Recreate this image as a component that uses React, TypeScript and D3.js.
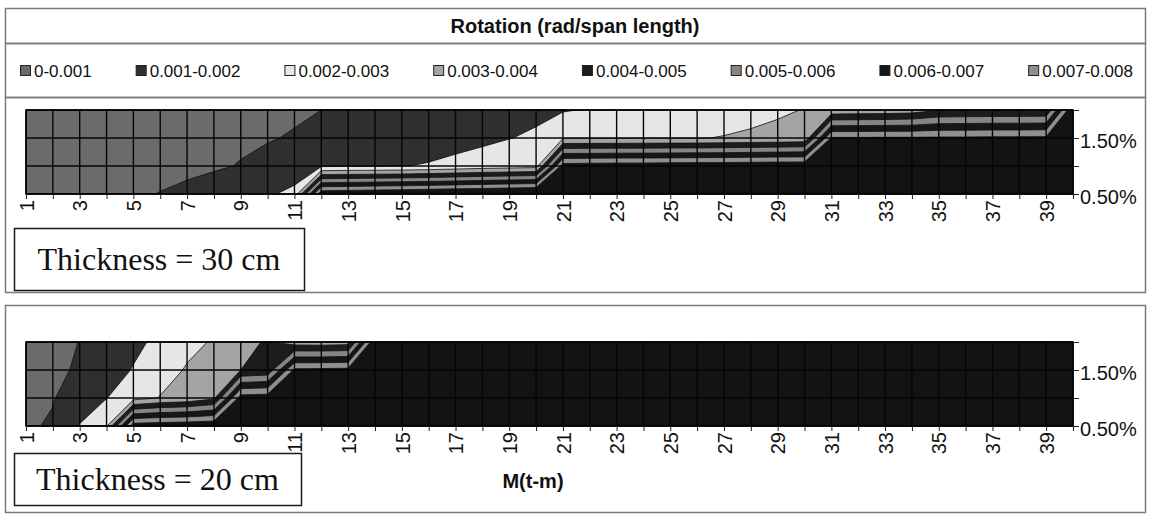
import React, { useEffect, useRef } from 'react';
import * as d3 from 'd3';

// categories: M (t-m)
const moments = [1, 2, 3, 4, 5, 6, 7, 8, 9, 10, 11, 12, 13, 14, 15, 16, 17, 18, 19, 20,
  21, 22, 23, 24, 25, 26, 27, 28, 29, 30, 31, 32, 33, 34, 35, 36, 37, 38, 39, 40];
// series (slope), bottom to top
const slopes = ['0.50%', '1.00%', '1.50%', '2.00%'];
const slopeTickLabels = ['0.50%', '1.50%'];

const bandLabels = ['0-0.001', '0.001-0.002', '0.002-0.003', '0.003-0.004',
  '0.004-0.005', '0.005-0.006', '0.006-0.007', '0.007-0.008'];
const bandBreaks = [0, 0.001, 0.002, 0.003, 0.004, 0.005, 0.006, 0.007, 0.008];

// rotation (rad/span length), thickness = 30 cm
const rot30_050 = [0.00030, 0.00045, 0.00060, 0.00072, 0.00086, 0.00103, 0.00120, 0.00140, 0.00160, 0.00185,
  0.00230, 0.00880, 0.00890, 0.00900, 0.00910, 0.00920, 0.00930, 0.00940, 0.00950, 0.00960,
  0.01050, 0.01060, 0.01070, 0.01080, 0.01090, 0.01100, 0.01110, 0.01120, 0.01130, 0.01140,
  0.01250, 0.01260, 0.01270, 0.01280, 0.01290, 0.01300, 0.01310, 0.01320, 0.01330, 0.01400];
const rot30_100 = [0.00020, 0.00030, 0.00040, 0.00050, 0.00060, 0.00070, 0.00080, 0.00090, 0.00104, 0.00118,
  0.00135, 0.00185, 0.00190, 0.00193, 0.00197, 0.00207, 0.00222, 0.00240, 0.00250, 0.00260,
  0.00850, 0.00855, 0.00860, 0.00860, 0.00865, 0.00870, 0.00870, 0.00875, 0.00880, 0.00880,
  0.00960, 0.00970, 0.00980, 0.00990, 0.01000, 0.01010, 0.01020, 0.01030, 0.01040, 0.01100];
const rot30_150 = [0.00015, 0.00024, 0.00033, 0.00042, 0.00051, 0.00060, 0.00069, 0.00078, 0.00087, 0.00096,
  0.00105, 0.00115, 0.00125, 0.00135, 0.00145, 0.00155, 0.00170, 0.00182, 0.00198, 0.00212,
  0.00290, 0.00292, 0.00293, 0.00295, 0.00296, 0.00297, 0.00303, 0.00310, 0.00316, 0.00325,
  0.00810, 0.00810, 0.00812, 0.00812, 0.00815, 0.00815, 0.00818, 0.00818, 0.00820, 0.00900];
const rot30_200 = [0.00010, 0.00018, 0.00026, 0.00034, 0.00042, 0.00050, 0.00058, 0.00066, 0.00074, 0.00082,
  0.00091, 0.00100, 0.00110, 0.00120, 0.00130, 0.00140, 0.00150, 0.00160, 0.00170, 0.00182,
  0.00193, 0.00207, 0.00220, 0.00233, 0.00245, 0.00257, 0.00268, 0.00280, 0.00292, 0.00302,
  0.00330, 0.00335, 0.00340, 0.00350, 0.00395, 0.00400, 0.00405, 0.00405, 0.00410, 0.00900];

// rotation (rad/span length), thickness = 20 cm
const rot20_050 = [0.00088, 0.00110, 0.00205, 0.00290, 0.00860, 0.00870, 0.00880, 0.00890, 0.00900, 0.00920,
  0.00940, 0.00960, 0.00980, 0.01000, 0.01020, 0.01040, 0.01060, 0.01080, 0.01100, 0.01120,
  0.01140, 0.01160, 0.01180, 0.01200, 0.01220, 0.01240, 0.01260, 0.01280, 0.01300, 0.01320,
  0.01340, 0.01360, 0.01380, 0.01400, 0.01420, 0.01440, 0.01460, 0.01480, 0.01500, 0.01520];
const rot20_100 = [0.00055, 0.00095, 0.00145, 0.00198, 0.00260, 0.00305, 0.00325, 0.00380, 0.00850, 0.00860,
  0.00880, 0.00900, 0.00920, 0.00940, 0.00960, 0.00980, 0.01000, 0.01020, 0.01040, 0.01060,
  0.01080, 0.01100, 0.01120, 0.01140, 0.01160, 0.01180, 0.01200, 0.01220, 0.01240, 0.01260,
  0.01280, 0.01300, 0.01320, 0.01340, 0.01360, 0.01380, 0.01400, 0.01420, 0.01440, 0.01460];
const rot20_150 = [0.00040, 0.00080, 0.00112, 0.00160, 0.00205, 0.00250, 0.00310, 0.00350, 0.00400, 0.00420,
  0.00820, 0.00825, 0.00830, 0.00900, 0.00920, 0.00940, 0.00960, 0.00980, 0.01000, 0.01020,
  0.01040, 0.01060, 0.01080, 0.01100, 0.01120, 0.01140, 0.01160, 0.01180, 0.01200, 0.01220,
  0.01240, 0.01260, 0.01280, 0.01300, 0.01320, 0.01340, 0.01360, 0.01380, 0.01400, 0.01420];
const rot20_200 = [0.00035, 0.00070, 0.00102, 0.00140, 0.00180, 0.00220, 0.00270, 0.00310, 0.00370, 0.00410,
  0.00350, 0.00345, 0.00355, 0.00890, 0.00910, 0.00930, 0.00950, 0.00970, 0.00990, 0.01010,
  0.01030, 0.01050, 0.01070, 0.01090, 0.01110, 0.01130, 0.01150, 0.01170, 0.01190, 0.01210,
  0.01230, 0.01250, 0.01270, 0.01290, 0.01310, 0.01330, 0.01350, 0.01370, 0.01390, 0.01410];

const W = 1151, H = 516;
const SANS = '"Liberation Sans", Arial, sans-serif';
const SERIF = '"Liberation Serif", "Times New Roman", serif';
// last colour is for values above 0.008
const bandColors = ['#6b6b6b', '#2f2f2f', '#e6e6e6', '#a4a4a4', '#1c1c1c', '#858585', '#161616', '#8f8f8f', '#131313'];
const frameColor = '#7a7a7a';

function drawPanel(svg, id, rows, plotTop, plotBottom) {
  const x = d3.scaleLinear().domain([1, moments.length]).range([26, 1073]);
  const yIdx = d3.scaleLinear().domain([0, slopes.length - 1]).range([plotBottom, plotTop]);
  const yPoint = d3.scalePoint().domain(slopes).range([plotBottom, plotTop]);

  // grid for d3.contours: first row is the top series
  const values = [];
  for (let r = rows.length - 1; r >= 0; r--) values.push(...rows[r]);
  const bands = d3.contours()
    .size([moments.length, rows.length])
    .thresholds(bandBreaks)(values);

  const proj = d3.geoTransform({
    point(gx, gy) {
      this.stream.point(x(gx + 0.5), yIdx(rows.length - 0.5 - gy));
    }
  });
  const path = d3.geoPath(proj);

  svg.append('clipPath').attr('id', 'clip-' + id)
    .append('rect')
    .attr('x', x(1)).attr('y', plotTop)
    .attr('width', x(moments.length) - x(1)).attr('height', plotBottom - plotTop);

  svg.append('g')
    .attr('clip-path', `url(#clip-${id})`)
    .selectAll('path')
    .data(bands)
    .join('path')
    .attr('d', path)
    .attr('fill', (d, i) => bandColors[i])
    .attr('fill-rule', 'evenodd')
    .attr('stroke', '#101010')
    .attr('stroke-width', 0.8);

  // grid lines
  const grid = svg.append('g').attr('stroke', '#050505').attr('stroke-width', 1.4);
  grid.selectAll('line.v').data(moments).join('line')
    .attr('class', 'v')
    .attr('x1', d => x(d)).attr('x2', d => x(d))
    .attr('y1', plotTop).attr('y2', plotBottom);
  grid.selectAll('line.h').data(slopes).join('line')
    .attr('class', 'h')
    .attr('x1', x(1)).attr('x2', x(moments.length))
    .attr('y1', d => yPoint(d)).attr('y2', d => yPoint(d));

  svg.append('rect')
    .attr('x', x(1)).attr('y', plotTop)
    .attr('width', x(moments.length) - x(1)).attr('height', plotBottom - plotTop)
    .attr('fill', 'none').attr('stroke', '#000').attr('stroke-width', 1.5);

  // x axis
  const gx = svg.append('g')
    .attr('transform', `translate(0,${plotBottom})`)
    .call(d3.axisBottom(x).tickValues(moments).tickSize(5)
      .tickFormat(d => (d % 2 === 1 ? String(d) : '')));
  gx.select('.domain').remove();
  gx.attr('font-size', 20).attr('font-family', SANS);
  gx.selectAll('line').attr('stroke', '#222');
  gx.selectAll('text')
    .attr('transform', 'rotate(-90)')
    .attr('x', -6).attr('y', 0).attr('dy', '0.36em')
    .attr('text-anchor', 'end')
    .attr('fill', '#111');

  // series axis on the right
  const gy = svg.append('g')
    .attr('transform', `translate(${x(moments.length)},0)`)
    .call(d3.axisRight(yPoint).tickSize(6)
      .tickFormat(d => (slopeTickLabels.includes(d) ? d : '')));
  gy.select('.domain').remove();
  gy.attr('font-size', 20).attr('font-family', SANS);
  gy.selectAll('line').attr('stroke', '#222');
  gy.selectAll('text').attr('x', 7).attr('dy', '0.45em').attr('fill', '#111');
}

function App() {
  const ref = useRef(null);

  useEffect(() => {
    const svg = d3.select(ref.current);
    svg.selectAll('*').remove();

    svg.append('rect').attr('width', W).attr('height', H).attr('fill', '#fff');

    // title, legend and the two chart frames
    const frames = [[5, 8, 1140, 35], [5, 43, 1140, 54], [5, 97, 1140, 195], [5, 305, 1140, 207]];
    svg.append('g').selectAll('rect').data(frames).join('rect')
      .attr('x', d => d[0] + 0.5).attr('y', d => d[1] + 0.5)
      .attr('width', d => d[2]).attr('height', d => d[3])
      .attr('fill', 'none').attr('stroke', frameColor).attr('stroke-width', 1.5);

    svg.append('text')
      .attr('x', 575).attr('y', 26).attr('dy', '0.35em')
      .attr('text-anchor', 'middle')
      .attr('font-family', SANS).attr('font-size', 20).attr('font-weight', 'bold')
      .attr('fill', '#111')
      .text('Rotation (rad/span length)');

    // legend
    const legend = svg.append('g').attr('font-family', SANS).attr('font-size', 17);
    let cursor = 20;
    bandLabels.forEach((label, i) => {
      legend.append('rect')
        .attr('x', cursor + 0.5).attr('y', 65.5)
        .attr('width', 10).attr('height', 10)
        .attr('fill', bandColors[i]).attr('stroke', '#222').attr('stroke-width', 1);
      const t = legend.append('text')
        .attr('x', cursor + 14).attr('y', 71).attr('dy', '0.35em')
        .attr('fill', '#111')
        .text(label);
      const w = t.node().getComputedTextLength();
      cursor += 14 + w + 44;
    });

    drawPanel(svg, 't30', [rot30_050, rot30_100, rot30_150, rot30_200], 110, 194);
    drawPanel(svg, 't20', [rot20_050, rot20_100, rot20_150, rot20_200], 342, 426);

    // thickness boxes
    const boxes = [
      { x: 14, y: 228, w: 290, h: 62, label: 'Thickness = 30 cm' },
      { x: 14, y: 453, w: 287, h: 52, label: 'Thickness = 20 cm' }
    ];
    boxes.forEach(b => {
      svg.append('rect')
        .attr('x', b.x + 0.5).attr('y', b.y + 0.5)
        .attr('width', b.w).attr('height', b.h)
        .attr('fill', '#fff').attr('stroke', '#1a1a1a').attr('stroke-width', 1.5);
      svg.append('text')
        .attr('x', b.x + b.w / 2).attr('y', b.y + b.h / 2).attr('dy', '0.35em')
        .attr('text-anchor', 'middle')
        .attr('font-family', SERIF).attr('font-size', 32)
        .attr('fill', '#111')
        .text(b.label);
    });

    svg.append('text')
      .attr('x', 533).attr('y', 481).attr('dy', '0.35em')
      .attr('text-anchor', 'middle')
      .attr('font-family', SANS).attr('font-size', 20).attr('font-weight', 'bold')
      .attr('fill', '#111')
      .text('M(t-m)');
  }, []);

  return (
    <div style={{ position: 'absolute', left: 0, top: 0 }}>
      <svg ref={ref} width={W} height={H} style={{ display: 'block' }} />
    </div>
  );
}

export default App;
